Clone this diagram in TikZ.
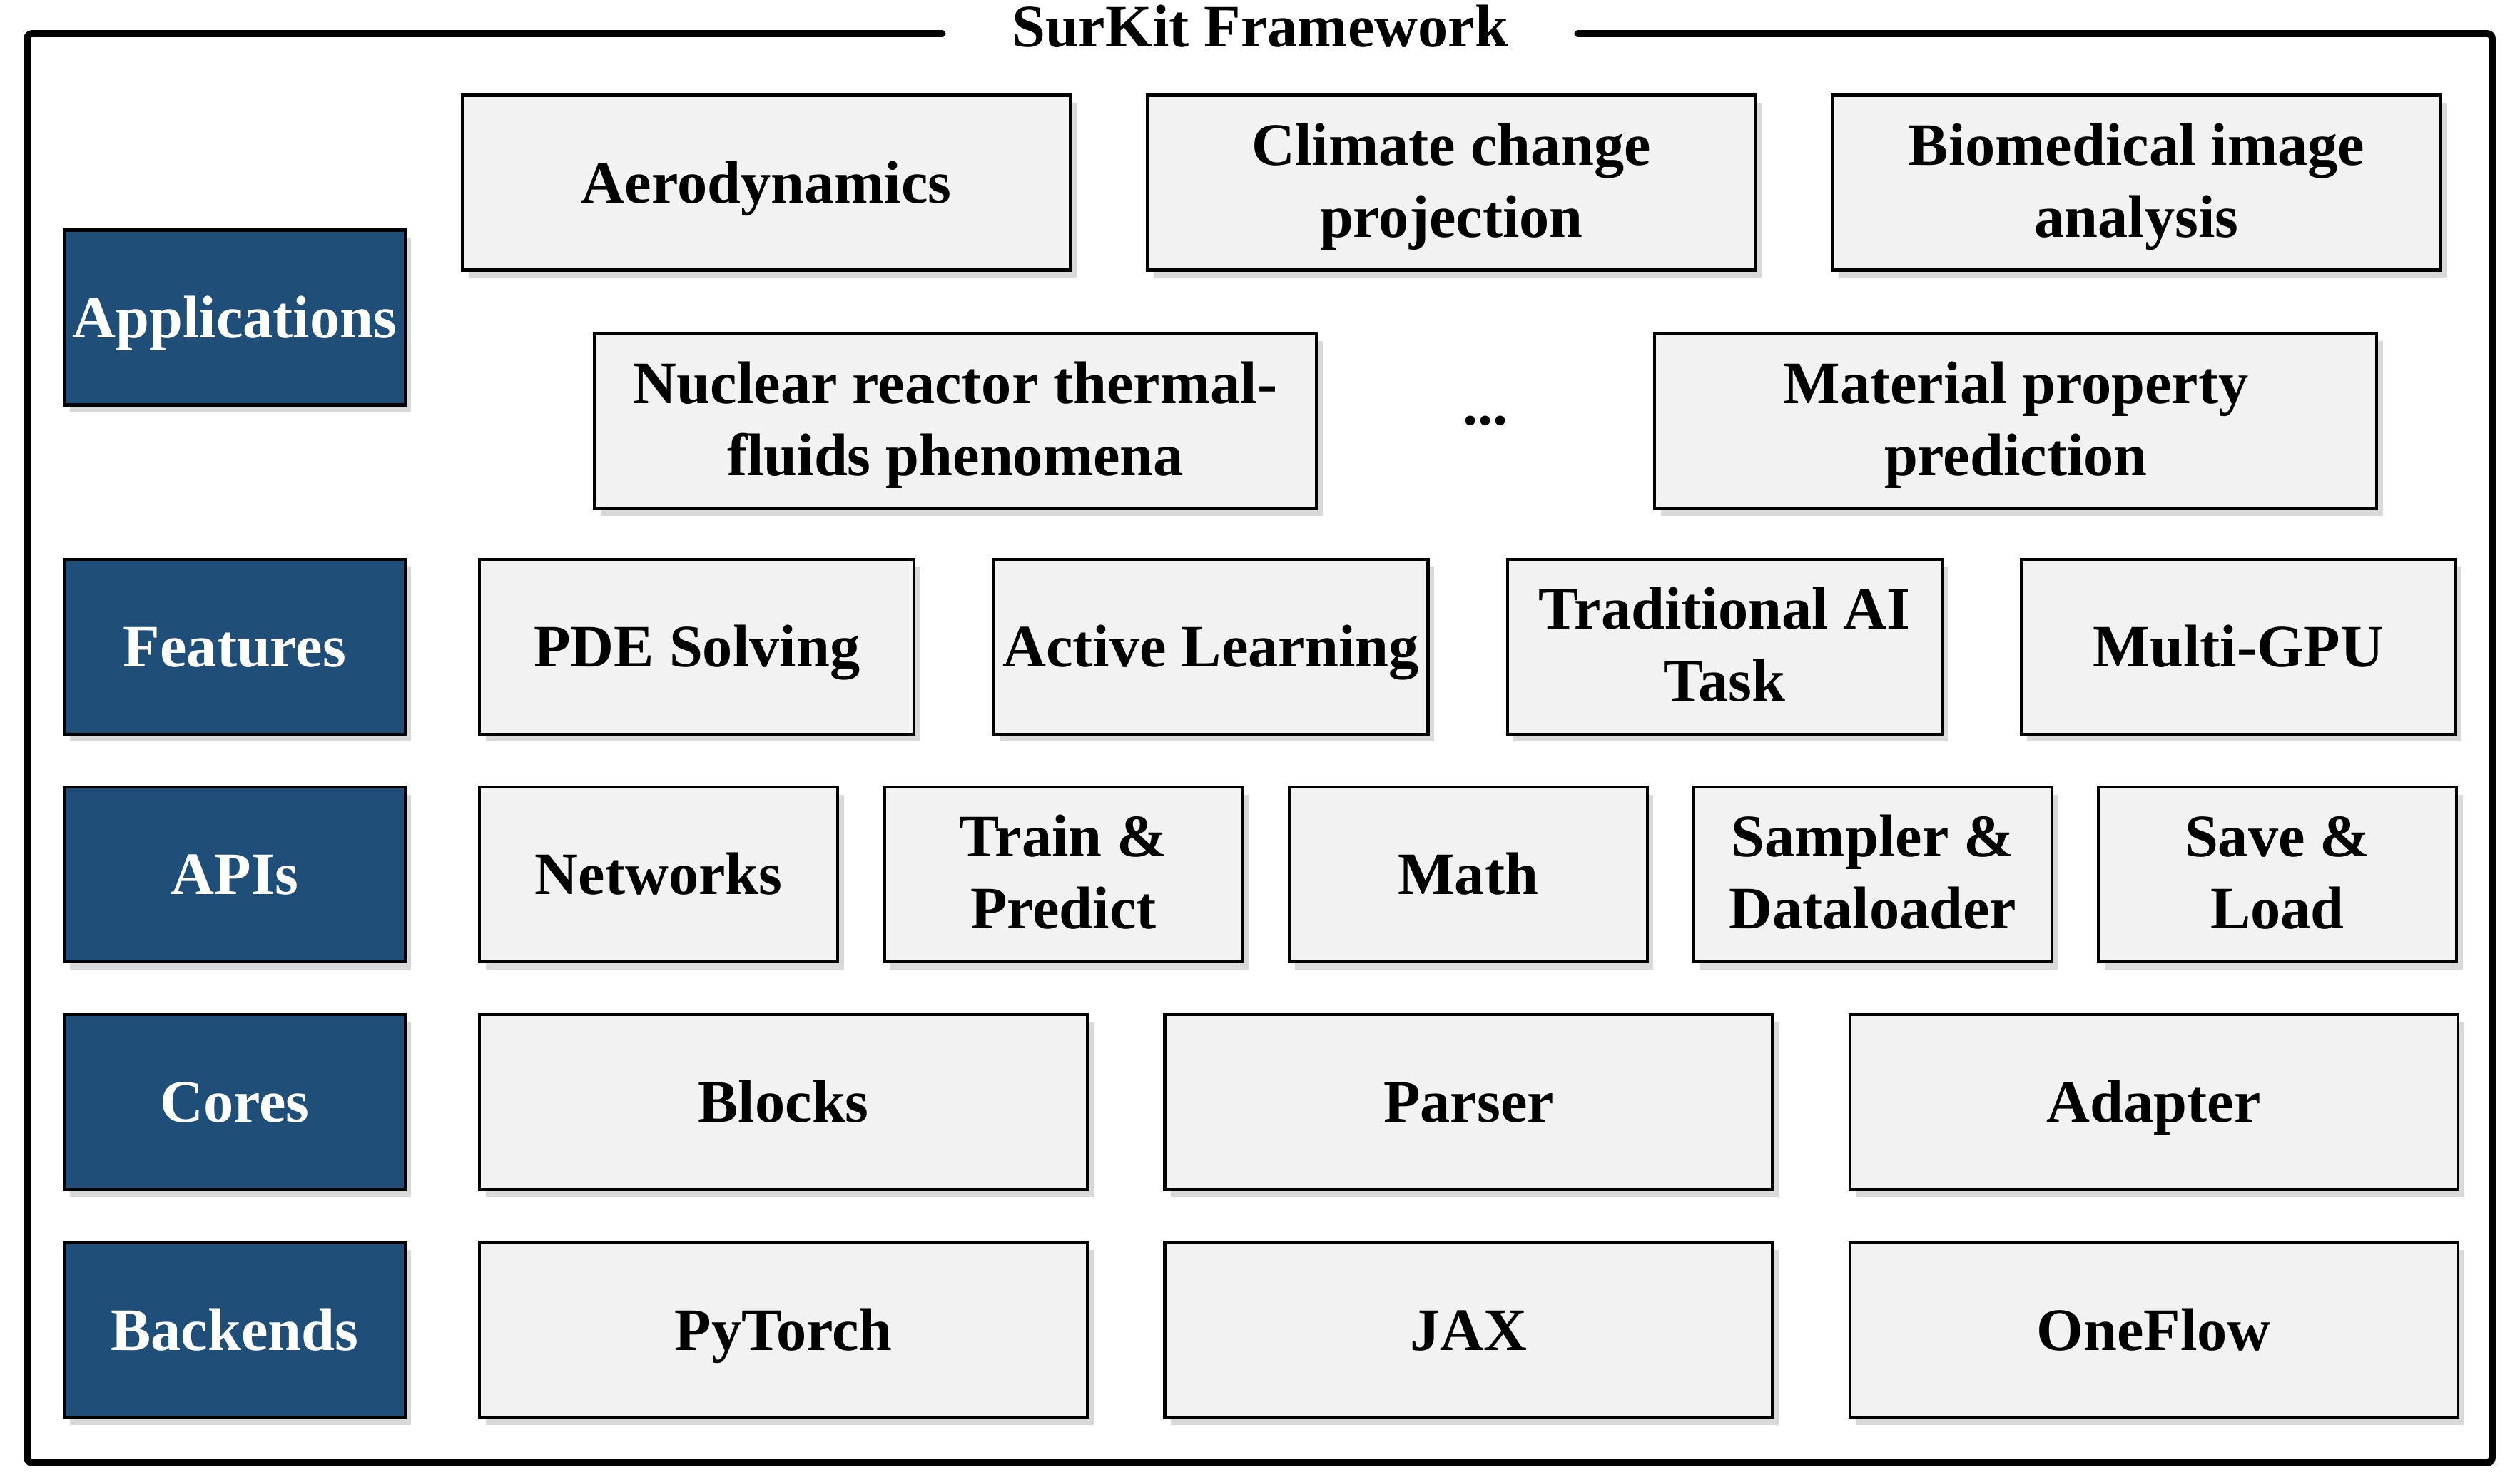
\documentclass[tikz,border=0pt]{standalone}
\usepackage{fontspec}
\setmainfont{Liberation Serif}
\usepackage{xcolor}
\usepackage{tikz}
\usetikzlibrary{shadows}
\usetikzlibrary{calc}
\usetikzlibrary{positioning}
\definecolor{layerblue}{RGB}{31,78,121}
\definecolor{boxgray}{RGB}{242,242,242}
\tikzstyle{layer} = [rectangle, draw=black, line width=0.6pt, fill=layerblue, text=white,
    font=\bfseries\fontsize{12}{14.4}\selectfont, minimum width=2.39cm, minimum height=1.225cm,
    inner sep=0pt, text height=11pt, text depth=3pt,
    drop shadow={shadow xshift=1.2pt, shadow yshift=-1.5pt, opacity=0.3}]
\tikzstyle{block} = [rectangle, draw=black, line width=0.6pt, fill=boxgray, align=center,
    font=\bfseries\fontsize{12}{14.4}\selectfont, minimum height=1.225cm,
    inner sep=0pt, text height=11pt, text depth=3pt,
    drop shadow={shadow xshift=1.2pt, shadow yshift=-1.5pt, opacity=0.3}]
\tikzstyle{twoline} = [text height=22.7pt, text depth=1pt]
\tikzstyle{frame} = [draw, line width=1.4pt, line cap=round, rounded corners=1pt]

\begin{document}
\begin{tikzpicture}[x=0.5cm, y=-0.5cm, node distance=0.535cm]
    \useasboundingbox (0,0) rectangle (35.32,20.76);
    % Layer labels
    \node[layer] (app) at (3.29,4.45) {Applications};
    \node[layer, below=1.06cm of app] (feat) {Features};
    \node[layer, below=0.35cm of feat] (api) {APIs};
    \node[layer, below=0.35cm of api] (core) {Cores};
    \node[layer, below=0.35cm of core] (back) {Backends};
    % Applications
    \node[block, minimum width=4.26cm, anchor=west] (aero) at (6.46,2.56) {Aerodynamics};
    \node[block, twoline, minimum width=4.26cm, right=0.52cm of aero] (climate) {Climate change\\projection};
    \node[block, twoline, minimum width=4.26cm, right=0.52cm of climate] (bio) {Biomedical image\\analysis};
    \node[block, twoline, minimum width=5.06cm, anchor=west] (nuclear) at (8.31,5.90) {Nuclear reactor thermal-\\fluids phenomena};
    \node[block, twoline, minimum width=5.06cm, right=2.35cm of nuclear] (material) {Material property\\prediction};
    \node[font=\bfseries\fontsize{12}{14.4}\selectfont] (dots) at ($(nuclear.east)!0.5!(material.west)$) {...};
    % Features
    \node[block, minimum width=3.045cm, right=0.5cm of feat] (pde) {PDE Solving};
    \node[block, minimum width=3.045cm, right=of pde] (active) {Active Learning};
    \node[block, twoline, minimum width=3.045cm, right=of active] (trad) {Traditional AI\\Task};
    \node[block, minimum width=3.045cm, right=of trad] (gpu) {Multi-GPU};
    % APIs
    \node[block, minimum width=2.51cm, right=0.5cm of api] (net) {Networks};
    \node[block, twoline, minimum width=2.51cm, right=0.305cm of net] (train) {Train \&\\Predict};
    \node[block, minimum width=2.51cm, right=0.305cm of train] (math) {Math};
    \node[block, twoline, minimum width=2.51cm, right=0.305cm of math] (sampler) {Sampler \&\\Dataloader};
    \node[block, twoline, minimum width=2.51cm, right=0.305cm of sampler] (save) {Save \&\\Load};
    % Cores
    \node[block, minimum width=4.26cm, right=0.5cm of core] (blocks) {Blocks};
    \node[block, minimum width=4.26cm, right=0.52cm of blocks] (parser) {Parser};
    \node[block, minimum width=4.26cm, right=0.52cm of parser] (adapter) {Adapter};
    % Backends
    \node[block, minimum width=4.26cm, right=0.5cm of back] (torch) {PyTorch};
    \node[block, minimum width=4.26cm, right=0.52cm of torch] (jax) {JAX};
    \node[block, minimum width=4.26cm, right=0.52cm of jax] (oneflow) {OneFlow};
    % Frame and title
    \node[font=\bfseries\fontsize{12}{14.4}\selectfont, inner xsep=0.48cm] (title) at (17.66,0.37) {SurKit Framework};
    \coordinate (tl) at (0.38,0.47);
    \coordinate (tr) at (34.93,0.47);
    \coordinate (bl) at (0.38,20.50);
    \coordinate (br) at (34.93,20.50);
    \draw[frame] (title.west |- tl) -- (tl) -- (bl) -- (br) -- (tr) -- (title.east |- tr);
\end{tikzpicture}
\end{document}
